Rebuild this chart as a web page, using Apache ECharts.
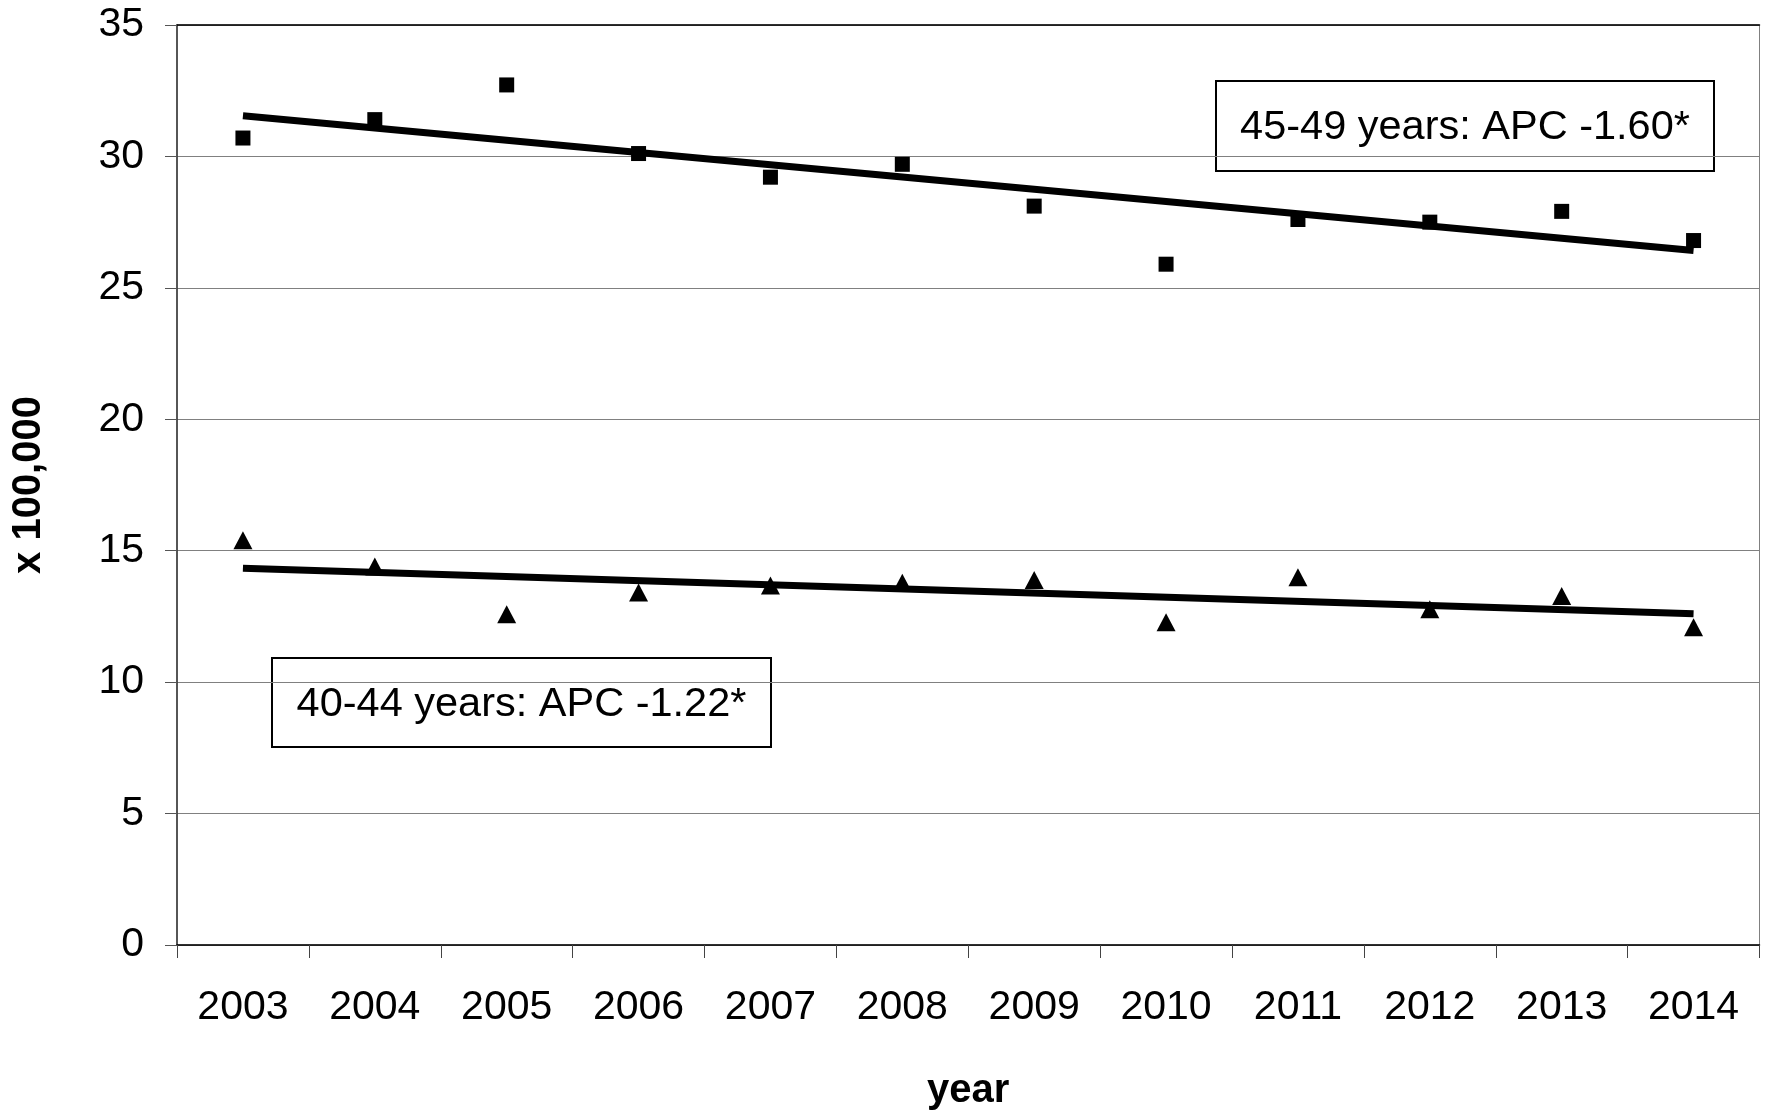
<!DOCTYPE html>
<html>
<head>
<meta charset="utf-8">
<script src="https://cdn.jsdelivr.net/npm/echarts@6/dist/echarts.min.js"></script>
<style>
html,body{margin:0;padding:0;background:#fff;}
#chart{width:1765px;height:1116px;}
</style>
</head>
<body>
<div id="chart"></div>
<script>
const years = ['2003','2004','2005','2006','2007','2008','2009','2010','2011','2012','2013','2014'];
const rate4549 = [30.70, 31.40, 32.72, 30.11, 29.21, 29.70, 28.11, 25.90, 27.60, 27.50, 27.91, 26.80];
const rate4044 = [15.40, 14.40, 12.58, 13.41, 13.68, 13.78, 13.89, 12.28, 13.99, 12.77, 13.28, 12.09];
const trend4549 = [31.55, null, null, null, null, null, null, null, null, null, null, 26.42];
const trend4044 = [14.33, null, null, null, null, null, null, null, null, null, null, 12.60];
const yTicks = [0, 5, 10, 15, 20, 25, 30, 35];
const label4549 = '45-49 years: APC -1.60*';
const label4044 = '40-44 years: APC -1.22*';

const FONT = '"Liberation Sans", Arial, sans-serif';
const chart = echarts.init(document.getElementById('chart'), null, {renderer: 'canvas'});

function box(x, y, w, h, text) {
  return {
    type: 'group', z: 100,
    children: [
      {type: 'rect', shape: {x: x, y: y, width: w, height: h},
       style: {fill: '#fff', stroke: '#000', lineWidth: 2}},
      {type: 'text', x: x + w / 2, y: y + h / 2 + 2,
       style: {text: text, font: '41.5px ' + FONT, fill: '#000', align: 'center', verticalAlign: 'middle'}}
    ]
  };
}

chart.setOption({
  animation: false,
  backgroundColor: '#fff',
  grid: {left: 177, right: 5.5, top: 25, bottom: 168, show: true, borderColor: '#808080', borderWidth: 1},
  xAxis: [{
    type: 'category',
    data: years,
    boundaryGap: true,
    name: 'year',
    nameLocation: 'middle',
    nameGap: 126,
    nameTextStyle: {fontFamily: FONT, fontSize: 40, fontWeight: 'bold', color: '#000'},
    axisLine: {show: true, lineStyle: {color: '#000', width: 1.5}},
    axisTick: {show: true, length: 13, lineStyle: {color: '#444', width: 1}},
    axisLabel: {fontFamily: FONT, fontSize: 41, color: '#000', margin: 42},
    splitLine: {show: false}
  }, {
    type: 'category',
    data: years,
    position: 'top',
    axisLine: {show: true, lineStyle: {color: '#000', width: 1.5}},
    axisTick: {show: false},
    axisLabel: {show: false},
    splitLine: {show: false}
  }],
  yAxis: {
    type: 'value',
    min: yTicks[0],
    max: yTicks[yTicks.length - 1],
    interval: 5,
    name: 'x 100,000',
    nameLocation: 'middle',
    nameGap: 128,
    nameRotate: 90,
    nameTextStyle: {fontFamily: FONT, fontSize: 40, fontWeight: 'bold', color: '#000'},
    axisLine: {show: true, lineStyle: {color: '#333', width: 1.5}},
    axisTick: {show: true, inside: false, length: 12, lineStyle: {color: '#555', width: 1}},
    axisLabel: {fontFamily: FONT, fontSize: 41, color: '#000', margin: 33},
    splitLine: {show: true, lineStyle: {color: '#808080', width: 1.2}}
  },
  series: [
    {type: 'line', data: trend4549, connectNulls: true, showSymbol: false, symbol: 'none',
     lineStyle: {color: '#000', width: 7, cap: 'butt'}, z: 3, silent: true},
    {type: 'line', data: trend4044, connectNulls: true, showSymbol: false, symbol: 'none',
     lineStyle: {color: '#000', width: 7, cap: 'butt'}, z: 3, silent: true},
    {type: 'scatter', data: rate4549, symbol: 'rect', symbolSize: [15, 15],
     itemStyle: {color: '#000', opacity: 1}, z: 5},
    {type: 'scatter', data: rate4044, symbol: 'triangle', symbolSize: [19, 18],
     itemStyle: {color: '#000', opacity: 1}, z: 5}
  ],
  graphic: [
    box(1216, 81, 498, 90, label4549),
    box(272, 658, 499, 89, label4044)
  ]
});
</script>
</body>
</html>
